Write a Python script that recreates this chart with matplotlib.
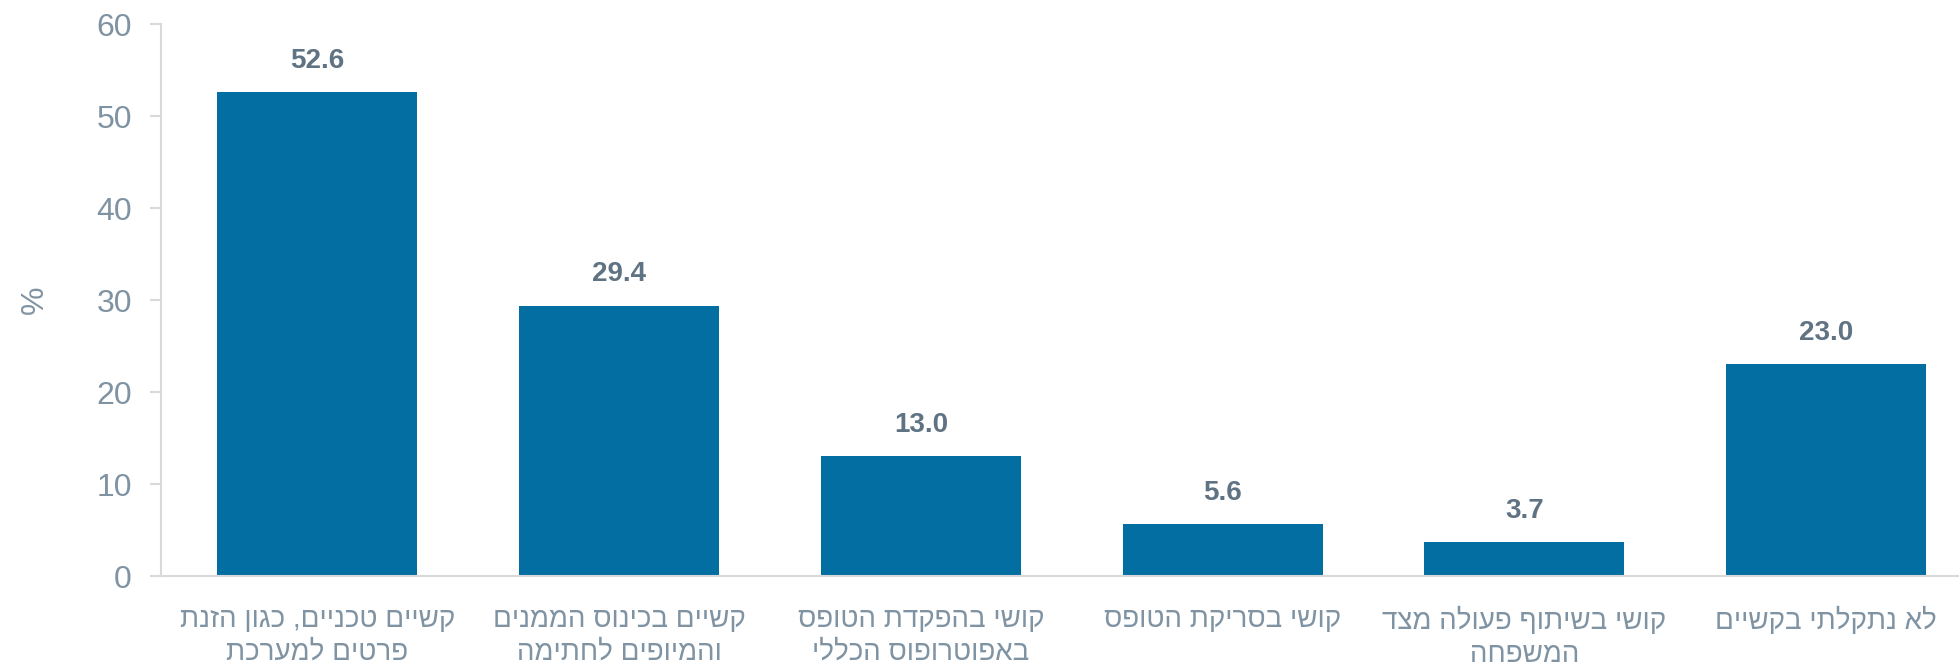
import matplotlib
matplotlib.use("Agg")
import matplotlib.pyplot as plt

# data (logical Hebrew order, reversed for display below)
categories = [
    "קשיים טכניים, כגון הזנת\nפרטים למערכת",
    "קשיים בכינוס הממנים\nוהמיופים לחתימה",
    "קושי בהפקדת הטופס\nבאפוטרופוס הכללי",
    "קושי בסריקת הטופס",
    "קושי בשיתוף פעולה מצד\nהמשפחה",
    "לא נתקלתי בקשיים",
]
values = [52.6, 29.4, 13.0, 5.6, 3.7, 23.0]
y_ticks = [0, 10, 20, 30, 40, 50, 60]


def rtl(s):
    # matplotlib has no bidi support: flip each line for right-to-left display
    return "\n".join(line[::-1] for line in s.split("\n"))


bar_color = "#036ea2"
tick_color = "#7f93a3"
value_color = "#5f7383"
spine_color = "#d9d9d9"
fonts = ["Liberation Sans", "DejaVu Sans"]

fig = plt.figure(figsize=(19.59, 6.69), dpi=100)
ax = fig.add_axes([0.0822, 0.139, 0.9178, 0.825])

x = list(range(len(values)))
bars = ax.bar(x, values, width=0.663, color=bar_color, zorder=2)

for xi, v in zip(x, values):
    ax.text(xi, v + 2.0, f"{v:.1f}", ha="center", va="bottom",
            fontsize=20, fontweight="bold", color=value_color, family=fonts)

ax.set_ylim(0, 60)
ax.set_xlim(-0.518, 5.44)
ax.set_yticks(y_ticks)
ax.set_yticklabels([str(t) for t in y_ticks], fontsize=23, color=tick_color, family=fonts)
ax.set_xticks(x)
ax.set_xticklabels([rtl(c) for c in categories], fontsize=20, color=tick_color,
                   family=fonts, linespacing=1.35)
ax.tick_params(axis="y", length=8, color=spine_color, width=1.5, pad=13)
ax.tick_params(axis="x", length=0, pad=22)

ax.set_ylabel("%", fontsize=23, color=tick_color, family=fonts)
ax.yaxis.set_label_coords(-0.062, 0.5)

for s in ["top", "right"]:
    ax.spines[s].set_visible(False)
ax.spines["left"].set_color(spine_color)
ax.spines["left"].set_linewidth(1.5)
ax.spines["bottom"].set_color(spine_color)
ax.spines["bottom"].set_linewidth(1.5)

fig.savefig("out.png", dpi=100)
